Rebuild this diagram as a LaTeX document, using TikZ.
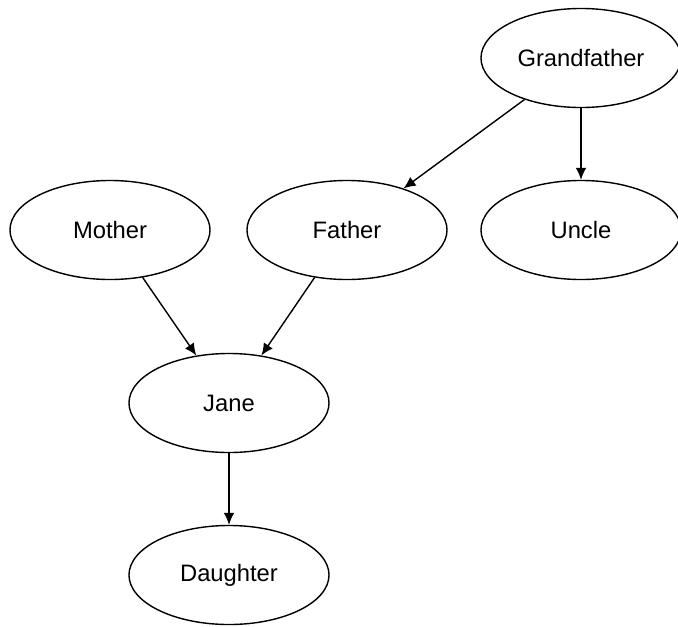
\documentclass[tikz,border=0pt]{standalone}
\usepackage{fontspec}
\setmainfont{Liberation Sans}
\usepackage{tikz}
\usetikzlibrary{shapes.geometric,arrows.meta}

\tikzset{
	person/.style={draw, ellipse, line width=1pt, inner sep=0pt,
		minimum width=5cm, minimum height=2.475cm,
		font=\fontsize{16.9}{20}\selectfont},
	kin/.style={-{Latex[length=.3cm, width=.27cm]}, line width=1pt}
}

\begin{document}
\begin{tikzpicture}[x=.025cm, y=-.025cm]
				\useasboundingbox (0,0) rectangle (678,626);
				\node[person] (grandfather) at (581,58) {Grandfather};
				\node[person] (mother) at (110,230) {Mother};
				\node[person] (father) at (347,230) {Father};
				\node[person] (uncle) at (581,230) {Uncle};
				\node[person] (jane) at (229,403) {Jane};
				\node[person] (daughter) at (229,575) {Daughter};
				\draw[kin] (grandfather) -- (father);
				\draw[kin] (grandfather) -- (uncle);
				\draw[kin] (mother) -- (jane);
				\draw[kin] (father) -- (jane);
				\draw[kin] (jane) -- (daughter);
			\end{tikzpicture}
\end{document}
